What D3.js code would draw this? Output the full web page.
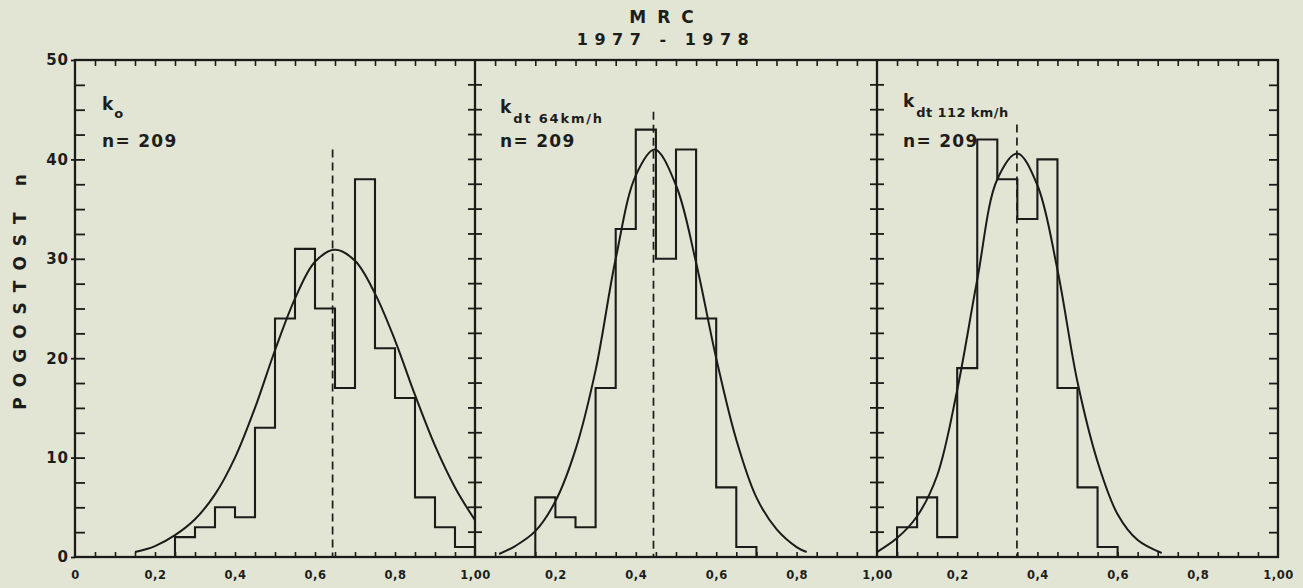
<!DOCTYPE html>
<html>
<head>
<meta charset="utf-8">
<script src="https://cdn.jsdelivr.net/npm/d3@7"></script>
<style>
  body { margin: 0; background: #e2e5d4; }
  svg { display: block; }
  text { font-family: "DejaVu Sans", sans-serif; font-weight: bold; fill: #1d1d1b; }
</style>
</head>
<body>
<svg id="chart" width="1303" height="588"></svg>
<script>
// histogram counts, bins of 0.05
const binWidth = 0.05;
const koStart = 0.25;
const koCounts = [2, 3, 5, 4, 13, 24, 31, 25, 17, 38, 21, 16, 6, 3, 1];
const k64Start = 0.15;
const k64Counts = [6, 4, 3, 17, 33, 43, 30, 41, 24, 7, 1];
const k112Start = 0.05;
const k112Counts = [3, 6, 2, 19, 42, 38, 34, 40, 17, 7, 1];

// fitted curves
const koCurve = [[0.15, 0.5], [0.20, 1.1], [0.25, 2.2], [0.30, 3.8], [0.35, 6.3], [0.40, 10.0],
  [0.45, 15.0], [0.50, 20.8], [0.55, 26.0], [0.60, 29.7], [0.65, 30.9], [0.70, 29.8],
  [0.75, 26.5], [0.80, 21.8], [0.85, 16.3], [0.90, 11.2], [0.95, 7.0], [1.00, 3.7]];
const k64Curve = [[0.06, 0.3], [0.10, 1.1], [0.15, 2.6], [0.20, 5.6], [0.25, 10.8], [0.30, 18.8],
  [0.35, 30.0], [0.40, 38.4], [0.447, 41.0], [0.50, 37.4], [0.55, 29.6], [0.60, 20.0],
  [0.65, 11.8], [0.70, 6.0], [0.75, 2.8], [0.80, 1.0], [0.825, 0.5]];
const k112Curve = [[0.0, 0.5], [0.05, 1.9], [0.10, 4.1], [0.15, 8.2], [0.20, 16.8], [0.25, 27.9],
  [0.30, 38.0], [0.35, 40.6], [0.40, 37.4], [0.45, 28.9], [0.50, 17.6], [0.55, 9.6],
  [0.60, 4.3], [0.65, 1.7], [0.71, 0.4]];

// mean values (dashed lines) and where the dash starts
const means = [0.644, 0.444, 0.349];
const meanTops = [41, 44.8, 43.5];

// panel labels
const panelNames = [["k", "o"], ["k", "dt 64km/h"], ["k", "dt 112 km/h"]];
const panelN = ["n= 209", "n= 209", "n= 209"];
const yLabelTicks = [0, 10, 20, 30, 40, 50];
const titleLines = ["MRC", "1977 - 1978"];
const yTitle = "POGOSTOST n";

const ink = "#1b1b19";
const svg = d3.select("#chart");

const plotTop = 60, plotBottom = 557;
const edges = [75, 475, 877, 1278];

const y = d3.scaleLinear().domain([0, 50]).range([plotBottom, plotTop]);
const xs = [0, 1, 2].map(i => d3.scaleLinear().domain([0, 1]).range([edges[i], edges[i + 1]]));

const panels = [
  {start: koStart, counts: koCounts, curve: koCurve},
  {start: k64Start, counts: k64Counts, curve: k64Curve},
  {start: k112Start, counts: k112Counts, curve: k112Curve}
];

const minorX = d3.range(1, 20).map(i => i * 0.05);
const minorY = d3.range(1, 20).map(i => i * 2.5);
const fmt = v => d3.format(".1f")(v).replace(".", ",");

// frame
svg.append("rect")
  .attr("x", edges[0]).attr("y", plotTop)
  .attr("width", edges[3] - edges[0]).attr("height", plotBottom - plotTop)
  .attr("fill", "none").attr("stroke", ink).attr("stroke-width", 2.3);

panels.forEach(function(p, i) {
  let x = xs[i];
  let g = svg.append("g");

  // bottom ticks, pointing up
  g.append("g")
    .attr("transform", "translate(0," + plotBottom + ")")
    .call(d3.axisBottom(x).tickValues(minorX).tickSize(-5).tickFormat(""))
    .call(a => a.select(".domain").remove())
    .selectAll("line").attr("stroke", ink).attr("stroke-width", 1.6);

  // top ticks, pointing down
  g.append("g")
    .attr("transform", "translate(0," + plotTop + ")")
    .call(d3.axisTop(x).tickValues(minorX).tickSize(-6).tickFormat(""))
    .call(a => a.select(".domain").remove())
    .selectAll("line").attr("stroke", ink).attr("stroke-width", 1.6);

  // tick labels
  let labelVals = i == 0 ? [0, 0.2, 0.4, 0.6, 0.8, 1] : [0.2, 0.4, 0.6, 0.8, 1];
  g.append("g")
    .attr("transform", "translate(0," + plotBottom + ")")
    .call(d3.axisBottom(x).tickValues(labelVals).tickSize(0).tickPadding(14)
      .tickFormat(v => v == 0 ? "0" : v == 1 ? "1,00" : fmt(v)))
    .call(a => a.select(".domain").remove())
    .selectAll("text")
      .style("font-size", "11.5px").style("letter-spacing", "0.5px")
      .attr("fill", ink);

  // histogram outline
  let pts = [[p.start, 0]];
  p.counts.forEach(function(c, j) {
    let x0 = p.start + j * binWidth;
    pts.push([x0, c], [x0 + binWidth, c]);
  });
  pts.push([p.start + p.counts.length * binWidth, 0]);
  g.append("path")
    .attr("d", d3.line().x(d => x(d[0])).y(d => y(d[1]))(pts))
    .attr("fill", "none").attr("stroke", ink).attr("stroke-width", 2.1)
    .attr("stroke-linejoin", "miter");

  // fitted curve
  g.append("path")
    .attr("d", d3.line().x(d => x(d[0])).y(d => y(d[1])).curve(d3.curveCatmullRom.alpha(0.5))(p.curve))
    .attr("fill", "none").attr("stroke", ink).attr("stroke-width", 2);

  // mean line
  g.append("line")
    .attr("x1", x(means[i])).attr("x2", x(means[i]))
    .attr("y1", y(meanTops[i])).attr("y2", y(0))
    .attr("stroke", ink).attr("stroke-width", 1.7)
    .attr("stroke-dasharray", "8,5");

  // labels
  let lx = x(0) + (i == 0 ? 27 : i == 1 ? 25 : 26);
  let ky = i == 0 ? 110 : i == 1 ? 113 : 107;
  let t = g.append("text").attr("x", lx).attr("y", ky).style("font-size", "17px");
  t.append("tspan").text(panelNames[i][0]);
  t.append("tspan")
    .attr("dx", i == 0 ? 1 : 2)
    .attr("dy", i == 0 ? 8 : 10)
    .style("font-size", "13px")
    .style("letter-spacing", i == 0 ? "0px" : i == 1 ? "1.8px" : "0.4px")
    .text(panelNames[i][1]);

  g.append("text")
    .attr("x", lx).attr("y", 147)
    .style("font-size", "17px").style("letter-spacing", "1.3px")
    .text(panelN[i]);
});

// left axis: minor ticks inward, labels outside
svg.append("g")
  .attr("transform", "translate(" + edges[0] + ",0)")
  .call(d3.axisLeft(y).tickValues(minorY).tickSize(-10).tickFormat(""))
  .call(a => a.select(".domain").remove())
  .selectAll("line").attr("stroke", ink).attr("stroke-width", 1.8);

svg.append("g")
  .attr("transform", "translate(" + edges[0] + ",0)")
  .call(d3.axisLeft(y).tickValues(yLabelTicks).tickSize(4).tickPadding(2))
  .call(a => a.select(".domain").remove())
  .call(a => a.selectAll("line").attr("stroke", ink).attr("stroke-width", 1.8))
  .selectAll("text")
    .style("font-size", "15px").style("letter-spacing", "1px").attr("fill", ink);

// inner panel boundaries with crossing ticks
[edges[1], edges[2]].forEach(function(ex) {
  svg.append("line")
    .attr("x1", ex).attr("x2", ex).attr("y1", plotTop).attr("y2", plotBottom)
    .attr("stroke", ink).attr("stroke-width", 2.3);
  svg.append("g").selectAll("line")
    .data(minorY).join("line")
    .attr("x1", ex - 7).attr("x2", ex + 7)
    .attr("y1", d => y(d)).attr("y2", d => y(d))
    .attr("stroke", ink).attr("stroke-width", 1.8);
});

// right axis ticks inward
svg.append("g")
  .attr("transform", "translate(" + edges[3] + ",0)")
  .call(d3.axisRight(y).tickValues(minorY).tickSize(-9).tickFormat(""))
  .call(a => a.select(".domain").remove())
  .selectAll("line").attr("stroke", ink).attr("stroke-width", 1.8);

// title
svg.append("text")
  .attr("x", 667).attr("y", 23).attr("text-anchor", "middle")
  .style("font-size", "17px").style("letter-spacing", "11px")
  .text(titleLines[0]);
svg.append("text")
  .attr("x", 666).attr("y", 45).attr("text-anchor", "middle")
  .style("font-size", "16px").style("letter-spacing", "6.5px")
  .text(titleLines[1]);

// y axis title
svg.append("text")
  .attr("transform", "translate(26,287) rotate(-90)")
  .attr("text-anchor", "middle")
  .style("font-size", "17px").style("letter-spacing", "10px")
  .text(yTitle);
</script>
</body>
</html>
